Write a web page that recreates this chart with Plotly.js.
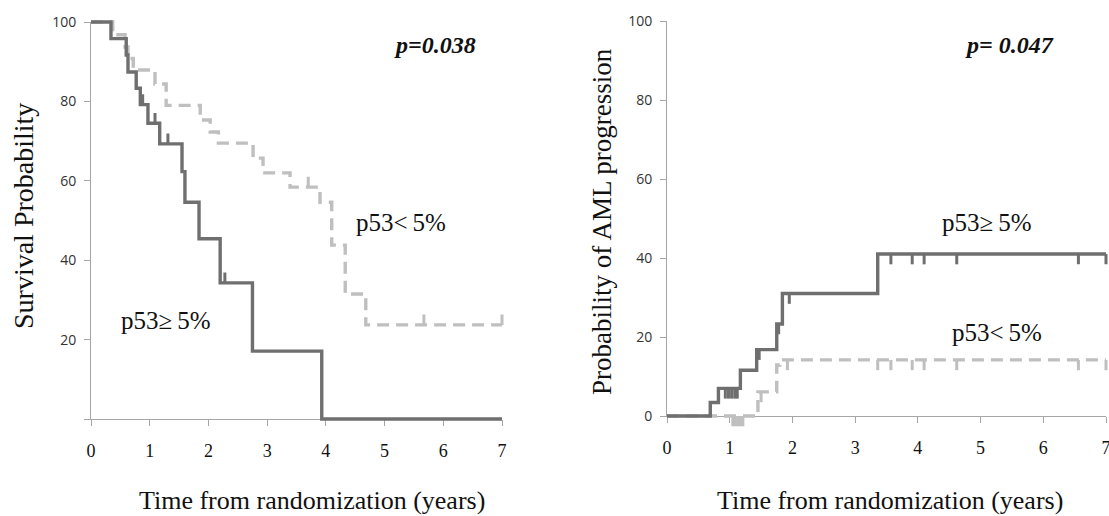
<!DOCTYPE html>
<html>
<head>
<meta charset="utf-8">
<script src="https://cdn.plot.ly/plotly-3.0.1.min.js"></script>
<style>html,body{margin:0;padding:0;background:#fff;}#chart{width:1109px;height:516px;}</style>
</head>
<body>
<div id="chart"></div>
<script>
// ---------- Data ----------
// Left panel: overall survival (%)
var osHighTimes  = [0, 0.34, 0.60, 0.63, 0.77, 0.84, 0.97, 1.17, 1.55, 1.60, 1.84, 2.20, 2.75, 3.93, 7];
var osHighValues = [100, 95.8, 91.7, 87.4, 83.3, 79.2, 74.5, 69.3, 62.3, 54.6, 45.4, 34.3, 17.1, 0, 0];
var osHighCensor = [0.88, 1.09, 1.31, 2.28];

var osLowTimes  = [0, 0.37, 0.58, 0.63, 0.72, 1.09, 1.28, 1.86, 2.03, 2.17, 2.76, 2.93, 3.39, 3.90, 4.10, 4.33, 4.68, 7];
var osLowValues = [100, 96.8, 93.7, 90.8, 87.9, 84.4, 79.0, 75.3, 72.3, 69.5, 65.7, 62.0, 58.4, 54.6, 43.8, 31.5, 23.7, 23.7];
var osLowCensor = [3.70, 5.67, 7.0];

// Right panel: cumulative probability of AML progression (%)
var amlHighTimes  = [0, 0.69, 0.82, 1.17, 1.43, 1.75, 1.84, 3.36, 7];
var amlHighValues = [0, 3.4, 7.0, 11.6, 16.8, 23.3, 31.0, 41.0, 41.0];
var amlHighCensor = [0.93, 0.98, 1.03, 1.08, 1.12, 1.47, 1.78, 1.95, 3.57, 3.91, 4.10, 4.62, 6.56, 7.0];

var amlLowTimes  = [0, 1.45, 1.75, 1.80, 7];
var amlLowValues = [0, 6.1, 12.9, 14.2, 14.2];
var amlLowCensor = [1.05, 1.09, 1.13, 1.17, 1.21, 1.50, 1.92, 3.36, 3.57, 3.91, 4.10, 4.62, 6.56, 7.0];

var xTicks = [0, 1, 2, 3, 4, 5, 6, 7];
var yTicks = [0, 20, 40, 60, 80, 100];
var yTicksLeftText = ['', '20', '40', '60', '80', '100'];
var yTicksRightText = ['0', '20', '40', '60', '80', '100'];

// ---------- Styling ----------
var DARK = '#6f6f6f', LIGHT = '#bfbfbf', AXIS = '#a6a6a6';
var LW = 3.4;
var DASH = '12px,7px';
var SERIF = 'Liberation Serif, Times New Roman, serif';
var SANS = 'Open Sans, Noto Sans, sans-serif';

function stepValue(times, values, t) {
  var v = values[0];
  for (var i = 0; i < times.length; i++) { if (times[i] <= t) v = values[i]; }
  return v;
}
function censorTrace(times, values, cens, dir, color, xa, ya) {
  var xs = [], ys = [];
  cens.forEach(function (t) {
    var v = stepValue(times, values, t);
    xs.push(t, t, null); ys.push(v, v + dir * 2.6, null);
  });
  return {x: xs, y: ys, mode: 'lines', xaxis: xa, yaxis: ya, hoverinfo: 'skip',
          line: {color: color, width: 3}, showlegend: false};
}
function stepTrace(times, values, color, dash, xa, ya) {
  return {x: times, y: values, mode: 'lines', xaxis: xa, yaxis: ya, showlegend: false,
          line: {shape: 'hv', color: color, width: LW, dash: dash}};
}

var data = [
  {x: [], y: [], xaxis: 'x', yaxis: 'y', showlegend: false},
  {x: [], y: [], xaxis: 'x2', yaxis: 'y2', showlegend: false},
  stepTrace(osLowTimes, osLowValues, LIGHT, DASH, 'x3', 'y3'),
  censorTrace(osLowTimes, osLowValues, osLowCensor, 1, LIGHT, 'x3', 'y3'),
  stepTrace(osHighTimes, osHighValues, DARK, 'solid', 'x3', 'y3'),
  censorTrace(osHighTimes, osHighValues, osHighCensor, 1, DARK, 'x3', 'y3'),
  stepTrace(amlLowTimes, amlLowValues, LIGHT, DASH, 'x4', 'y4'),
  censorTrace(amlLowTimes, amlLowValues, amlLowCensor, -1, LIGHT, 'x4', 'y4'),
  stepTrace(amlHighTimes, amlHighValues, DARK, 'solid', 'x4', 'y4'),
  censorTrace(amlHighTimes, amlHighValues, amlHighCensor, -1, DARK, 'x4', 'y4')
];

var W = 1109, H = 516;
// display plot areas (pixels)
var L = {x0: 91, x1: 502, yTop: 22, yBot: 419};
var R = {x0: 667, x1: 1106, yTop: 21, yBot: 416};
var XR = [0, 7], YR = [0, 100];
// pixel padding of the invisible data axes (same mapping, wider area -> no clipping)
var PADL = 12, PADR = 2.5, PADT = 15, PADB = 15;

function dispXAxis(p, anchor) {
  return {domain: [p.x0 / W, p.x1 / W], anchor: anchor, range: XR, fixedrange: true,
    showline: true, linecolor: AXIS, linewidth: 1, showgrid: false, zeroline: false,
    ticks: 'outside', ticklen: 6, tickcolor: AXIS, tickwidth: 1,
    tickvals: xTicks, ticktext: xTicks.map(String), ticklabelstandoff: 9,
    ticklabeloverflow: 'allow',
    tickfont: {family: SERIF, size: 18, color: '#111'}};
}
function dispYAxis(p, anchor, txt) {
  return {domain: [1 - p.yBot / H, 1 - p.yTop / H], anchor: anchor, range: YR, fixedrange: true,
    showline: true, linecolor: AXIS, linewidth: 1, showgrid: false, zeroline: false,
    ticks: 'outside', ticklen: 6, tickcolor: AXIS, tickwidth: 1,
    tickvals: yTicks, ticktext: txt, ticklabelstandoff: 5,
    tickfont: {family: SANS, size: 14, color: '#333'}};
}
function dataXAxis(p, anchor) {
  var upp = (XR[1] - XR[0]) / (p.x1 - p.x0);
  return {domain: [(p.x0 - PADL) / W, (p.x1 + PADR) / W], anchor: anchor,
    range: [XR[0] - PADL * upp, XR[1] + PADR * upp], visible: false, fixedrange: true};
}
function dataYAxis(p, anchor) {
  var upp = (YR[1] - YR[0]) / (p.yBot - p.yTop);
  return {domain: [1 - (p.yBot + PADB) / H, 1 - (p.yTop - PADT) / H], anchor: anchor,
    range: [YR[0] - PADB * upp, YR[1] + PADT * upp], visible: false, fixedrange: true};
}

function ann(text, px, py, size, angle) {
  return {text: text, x: px / W, y: 1 - py / H, xref: 'paper', yref: 'paper',
    xanchor: 'center', yanchor: 'middle', showarrow: false, textangle: angle || 0,
    font: {family: SERIF, size: size, color: '#111'}};
}

var layout = {
  width: W, height: H,
  margin: {l: 0, r: 0, t: 0, b: 0},
  paper_bgcolor: '#ffffff', plot_bgcolor: 'rgba(0,0,0,0)',
  showlegend: false,
  xaxis: dispXAxis(L, 'y'), yaxis: dispYAxis(L, 'x', yTicksLeftText),
  xaxis2: dispXAxis(R, 'y2'), yaxis2: dispYAxis(R, 'x2', yTicksRightText),
  xaxis3: dataXAxis(L, 'y3'), yaxis3: dataYAxis(L, 'x3'),
  xaxis4: dataXAxis(R, 'y4'), yaxis4: dataYAxis(R, 'x4'),
  annotations: [
    ann('Survival Probability', 23, 216, 28, -90),
    ann('Probability of AML progression', 602, 222, 27, -90),
    ann('Time from randomization (years)', 312, 500, 26),
    ann('Time from randomization (years)', 890, 500, 26),
    ann('<b><i>p=0.038</i></b>', 435, 45, 24),
    ann('<b><i>p= 0.047</i></b>', 1010, 45, 24),
    ann('p53&lt;\u20095%', 401, 222, 25),
    ann('p53≥\u20095%', 166, 320, 25),
    ann('p53≥\u20095%', 987, 222, 25),
    ann('p53&lt;\u20095%', 997, 332, 25)
  ]
};

Plotly.newPlot('chart', data, layout, {staticPlot: true, displayModeBar: false});
</script>
</body>
</html>
